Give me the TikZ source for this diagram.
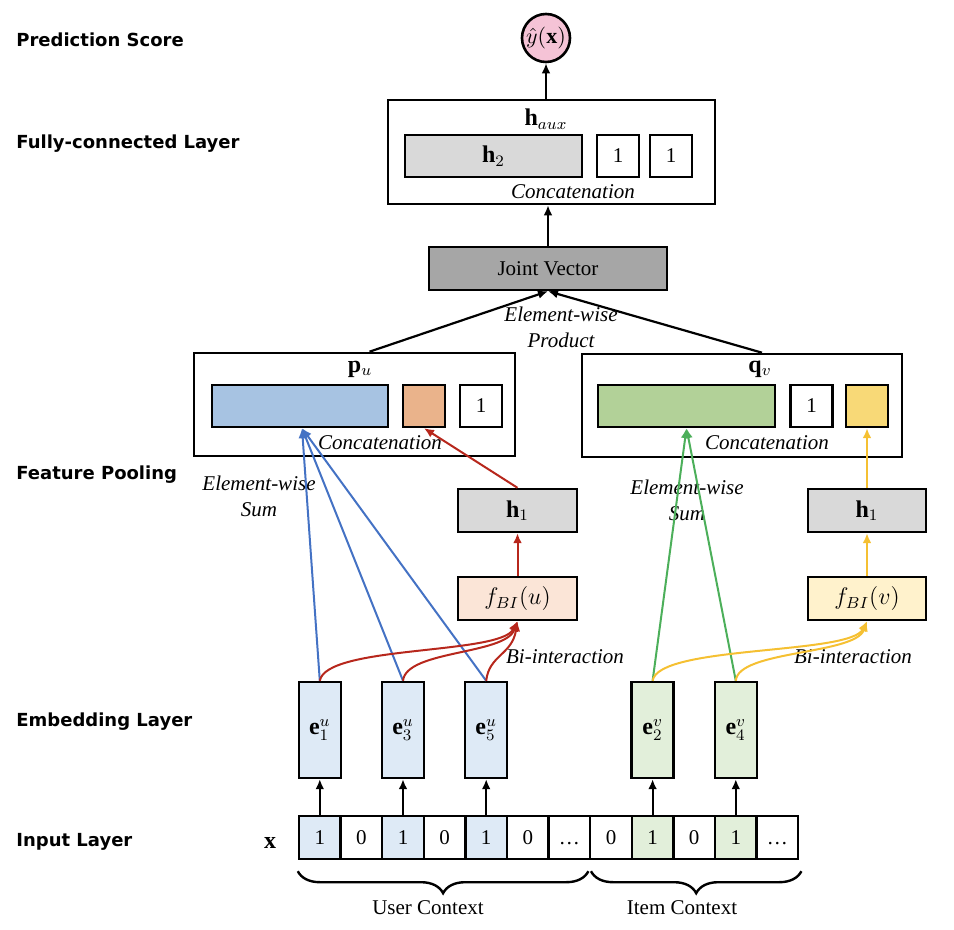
\documentclass[tikz,border=0pt]{standalone}
\usepackage{fontspec}
\setmainfont{Liberation Serif}
\newfontfamily\layerfont{DejaVu Sans}
\usepackage{amsmath}
\usepackage{tikz}
\usetikzlibrary{
  arrows.meta,
  calc,
  decorations.pathreplacing,
  positioning
}
\definecolor{predpink}{HTML}{F5C3D6}
\definecolor{hgray}{HTML}{D9D9D9}
\definecolor{jointgray}{HTML}{A6A6A6}
\definecolor{barblue}{HTML}{A7C3E2}
\definecolor{barorange}{HTML}{EAB38B}
\definecolor{bargreen}{HTML}{B2D198}
\definecolor{baryellow}{HTML}{F8D977}
\definecolor{fupeach}{HTML}{FBE5D7}
\definecolor{fvcream}{HTML}{FFF2CC}
\definecolor{embblue}{HTML}{DEEAF6}
\definecolor{embgreen}{HTML}{E2EFDA}
\definecolor{lineblue}{HTML}{4472C4}
\definecolor{linered}{HTML}{B7271C}
\definecolor{linegreen}{HTML}{4CAF5A}
\definecolor{lineyellow}{HTML}{F5C032}
\tikzset{
  every node/.style = {font=\fontsize{10.5}{13}\selectfont},
  layer/.style = {anchor=west, inner sep=0pt,
    font=\layerfont\bfseries\fontsize{9}{11}\selectfont},
  note/.style = {font=\itshape\fontsize{10.5}{13}\selectfont, inner sep=1pt},
  mathlbl/.style = {font=\fontsize{12}{14}\selectfont},
  outerbox/.style = {draw, line width=1.3pt, minimum height=51.5pt},
  vecbox/.style = {draw, line width=1.2pt, minimum height=21pt, inner sep=0pt},
  unitbox/.style = {vecbox, minimum width=21pt},
  cellbox/.style = {draw, line width=1.2pt, minimum width=20.8pt,
    minimum height=21.5pt, inner sep=0pt, text height=7pt, text depth=0pt},
  embbox/.style = {draw, line width=1.2pt, minimum width=21pt,
    minimum height=48pt, inner sep=0pt, mathlbl},
  arr/.style = {-{Latex[length=5pt,width=4.4pt]}, line width=1.1pt},
  carr/.style = {-{Latex[length=5pt,width=4.4pt]}, line width=1pt},
  brace/.style = {decorate, decoration={brace, mirror, amplitude=11pt},
    line width=1.2pt},
}

\begin{document}
\begin{tikzpicture}[x=0.5pt,y=-0.5pt]
\useasboundingbox (0,0) rectangle (954,930);

% layer names
\node[layer] (lpred) at (16,40) {Prediction Score};
\node[layer] (lfc) at (16,144) {Fully-connected Layer};
\node[layer] (lpool) at (16,475) {Feature Pooling};
\node[layer] (lemb) at (16,722) {Embedding Layer};
\node[layer] (lin) at (16,842) {Input Layer};

% prediction and fully-connected layer
\node[circle, draw, line width=1.3pt, fill=predpink, minimum size=24pt,
  inner sep=0pt, font=\fontsize{11}{13}\selectfont] (pred) at (546,38) {$\hat{y}(\mathbf{x})$};
\node[outerbox, minimum width=163.5pt, minimum height=52pt] (haux) at (551.5,152) {};
\node[mathlbl] (hauxlbl) at (546,119) {$\mathbf{h}_{aux}$};
\node[vecbox, mathlbl, fill=hgray, minimum width=88.5pt] (h2) at (493.5,156) {$\mathbf{h}_2$};
\node[unitbox] (onea) at (618,156) {1};
\node[unitbox] (oneb) at (671,156) {1};
\node[note] (concat) at (573,192) {Concatenation};

\node[vecbox, fill=jointgray, minimum width=119pt, minimum height=21.5pt]
  (joint) at (548,268.5) {Joint Vector};
\node[note, align=center] (prod) at (561,327) {Element-wise\\Product};

% feature pooling, user side
\node[outerbox, minimum width=160.5pt] (pu) at (354.5,404.5) {};
\node[mathlbl] (pulbl) at (360,369) {$\mathbf{p}_u$};
\node[vecbox, fill=barblue, minimum width=88pt] (pbar) at (300,406) {};
\node[unitbox, fill=barorange] (porange) at (424,406) {};
\node[unitbox] (pone) at (481,406) {1};
\node[note] (pconcat) at (380,443) {Concatenation};

% feature pooling, item side
\node[outerbox, minimum width=160pt] (qv) at (742,405.5) {};
\node[mathlbl] (qvlbl) at (760,369) {$\mathbf{q}_v$};
\node[vecbox, fill=bargreen, minimum width=88.5pt] (qbar) at (686.5,406) {};
\node[unitbox] (qone) at (811.5,406) {1};
\node[unitbox, fill=baryellow] (qyellow) at (867,406) {};
\node[note] (qconcat) at (767,443) {Concatenation};

\node[note, align=center] (usum) at (259,496.5) {Element-wise\\Sum};
\node[note, align=center] (isum) at (687,500) {Element-wise\\Sum};

% bi-interaction
\node[vecbox, mathlbl, fill=hgray, minimum width=59.5pt, minimum height=21.5pt] (h1u) at (517.5,510.5) {$\mathbf{h}_1$};
\node[vecbox, mathlbl, fill=fupeach, minimum width=59.5pt, minimum height=21.5pt] (fu) at (517.5,598.5) {$f_{BI}(u)$};
\node[vecbox, mathlbl, fill=hgray, minimum width=59pt, minimum height=21.5pt] (h1v) at (867,510.5) {$\mathbf{h}_1$};
\node[vecbox, mathlbl, fill=fvcream, minimum width=59pt, minimum height=21.5pt] (fv) at (867,598.5) {$f_{BI}(v)$};
\node[note] (ubi) at (565,657) {Bi-interaction};
\node[note] (ibi) at (853,657) {Bi-interaction};

% input layer
\node[mathlbl] (xlbl) at (270,843) {$\mathbf{x}$};
\foreach \v/\c [count=\i] in {1/embblue,0/white,1/embblue,0/white,1/embblue,0/white,
  \ldots/white,0/white,1/embgreen,0/white,1/embgreen,\ldots/white}
  \node[cellbox, fill=\c] (c\i) at ({299+41.6*(\i-0.5)},837.5) {\v};

% embedding layer
\node[embbox, fill=embblue] (eu1) at (c1 |- 0,730) {$\mathbf{e}^{u}_{1}$};
\node[embbox, fill=embblue] (eu3) at (c3 |- 0,730) {$\mathbf{e}^{u}_{3}$};
\node[embbox, fill=embblue] (eu5) at (c5 |- 0,730) {$\mathbf{e}^{u}_{5}$};
\node[embbox, fill=embgreen] (ev2) at (c9 |- 0,730) {$\mathbf{e}^{v}_{2}$};
\node[embbox, fill=embgreen] (ev4) at (c11 |- 0,730) {$\mathbf{e}^{v}_{4}$};

\foreach \a/\b in {c1/eu1,c3/eu3,c5/eu5,c9/ev2,c11/ev4}
  \draw[arr] (\a) -- (\b);

% element-wise sums
\foreach \e in {eu1,eu3,eu5}
  \draw[carr, color=lineblue] (\e.north) -- ([xshift=1pt]pbar.south);
\foreach \e in {ev2,ev4}
  \draw[carr, color=linegreen] (\e.north) -- (qbar.south);

% bi-interaction curves
\draw[carr, color=linered] (eu1.north) .. controls (326,645) and (500,655) .. (fu.south);
\draw[carr, color=linered] (eu3.north) .. controls (406,650) and (505,655) .. (fu.south);
\draw[carr, color=linered] (eu5.north) .. controls (489,655) and (512,655) .. (fu.south);
\draw[carr, color=lineyellow] (ev2.north) .. controls (658,645) and (850,655) .. (fv.south);
\draw[carr, color=lineyellow] (ev4.north) .. controls (738,650) and (855,655) .. (fv.south);

\draw[carr, color=linered] (fu) -- (h1u);
\draw[carr, color=linered] (h1u.north) -- (porange.south);
\draw[carr, color=lineyellow] (fv) -- (h1v);
\draw[carr, color=lineyellow] (h1v.north) -- (qyellow.south);

% joint vector and output
\draw[arr] ([xshift=7.5pt]pu.north) -- (joint.south);
\draw[arr] ([xshift=10pt]qv.north) -- (joint.south);
\draw[arr] (joint.north) -- (joint.north |- haux.south);
\draw[arr] (haux.north -| pred) -- (pred.south);

% contexts
\draw[brace] ([yshift=-5.5pt]c1.south west) -- ([xshift=-1.5pt,yshift=-5.5pt]c7.south east);
\draw[brace] ([xshift=1pt,yshift=-5.5pt]c8.south west) -- ([xshift=1pt,yshift=-5.5pt]c12.south east);
\node (uctx) at (428,908) {User Context};
\node (ictx) at (682,908) {Item Context};
\end{tikzpicture}
\end{document}
